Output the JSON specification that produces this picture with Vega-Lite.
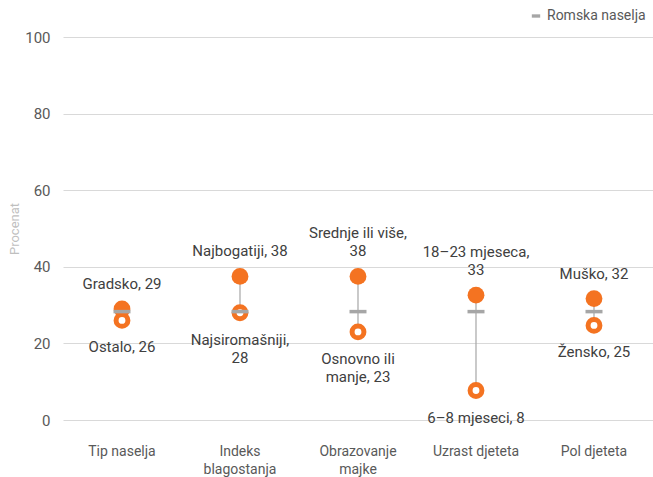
{
  "$schema": "https://vega.github.io/schema/vega-lite/v6.json",
  "width": 590,
  "height": 383,
  "autosize": "none",
  "padding": {"left": 63, "top": 37, "right": 0, "bottom": 57},
  "background": "white",
  "config": {
    "view": {"stroke": null},
    "font": "Roboto",
    "axis": {"labelFont": "Roboto", "titleFont": "Roboto"}
  },
  "data": {
    "values": [
      {"kategorija": "Tip naselja", "visoko": 29, "visokoGore": "", "visokoLbl": "Gradsko, 29", "nisko": 26, "niskoLbl": "Ostalo, 26", "roma": 28.3},
      {"kategorija": "Indeks|blagostanja", "visoko": 37.5, "visokoGore": "", "visokoLbl": "Najbogatiji, 38", "nisko": 28, "niskoLbl": "Najsiromašniji,|28", "roma": 28.3},
      {"kategorija": "Obrazovanje|majke", "visoko": 37.5, "visokoGore": "Srednje ili više,", "visokoLbl": "38", "nisko": 23, "niskoLbl": "Osnovno ili|manje, 23", "roma": 28.3},
      {"kategorija": "Uzrast djeteta", "visoko": 32.6, "visokoGore": "18–23 mjeseca,", "visokoLbl": "33", "nisko": 7.7, "niskoLbl": "6–8 mjeseci, 8", "roma": 28.3},
      {"kategorija": "Pol djeteta", "visoko": 31.7, "visokoGore": "", "visokoLbl": "Muško, 32", "nisko": 24.7, "niskoLbl": "Žensko, 25", "roma": 28.3}
    ]
  },
  "encoding": {
    "x": {
      "field": "kategorija",
      "type": "nominal",
      "sort": null,
      "scale": {"paddingInner": 0, "paddingOuter": 0},
      "axis": {
        "title": null,
        "labelAngle": 0,
        "labelExpr": "split(datum.label, '|')",
        "labelFontSize": 14,
        "labelColor": "#595959",
        "labelPadding": 24,
        "labelLineHeight": 18,
        "ticks": false,
        "domain": false,
        "grid": false,
        "labelBaseline": "top"
      }
    }
  },
  "layer": [
    {
      "mark": {"type": "rule", "color": "#a6a6a6", "strokeWidth": 1.2},
      "encoding": {
        "y": {
          "field": "nisko",
          "type": "quantitative",
          "scale": {"domain": [0, 100]},
          "axis": {
            "title": "Procenat",
            "titleColor": "#bfbfbf",
            "titleFontSize": 13,
            "titleFontWeight": "normal",
            "titlePadding": 3,
            "values": [0, 20, 40, 60, 80, 100],
            "labelFontSize": 15,
            "labelColor": "#595959",
            "labelPadding": 13,
            "ticks": false,
            "domain": false,
            "gridColor": "#d9d9d9",
            "gridWidth": 1
          }
        },
        "y2": {"field": "visoko"}
      }
    },
    {
      "mark": {"type": "point", "shape": "circle", "filled": true, "size": 283, "color": "#f47321", "opacity": 1},
      "encoding": {"y": {"field": "visoko", "type": "quantitative"}}
    },
    {
      "mark": {"type": "point", "shape": "circle", "filled": false, "size": 140, "stroke": "#f47321", "fill": "white", "fillOpacity": 1, "strokeWidth": 5, "opacity": 1},
      "encoding": {"y": {"field": "nisko", "type": "quantitative"}}
    },
    {
      "mark": {"type": "tick", "thickness": 3.5, "size": 17, "opacity": 1},
      "encoding": {
        "y": {"field": "roma", "type": "quantitative"},
        "color": {
          "datum": "Romska naselja",
          "scale": {"range": ["#a6a6a6"]},
          "legend": {
            "title": null,
            "orient": "none",
            "legendX": 466,
            "legendY": -28,
            "symbolType": "M-1,-0.4H1V0.4H-1Z",
            "symbolSize": 70,
            "symbolStrokeWidth": 0,
            "labelFontSize": 14,
            "labelColor": "#595959",
            "labelOffset": 4
          }
        }
      }
    },
    {
      "mark": {"type": "text", "baseline": "bottom", "dy": -35, "fontSize": 15, "color": "#404040"},
      "encoding": {
        "y": {"field": "visoko", "type": "quantitative"},
        "text": {"field": "visokoGore"}
      }
    },
    {
      "mark": {"type": "text", "baseline": "bottom", "dy": -17, "fontSize": 15, "color": "#404040"},
      "encoding": {
        "y": {"field": "visoko", "type": "quantitative"},
        "text": {"field": "visokoLbl"}
      }
    },
    {
      "mark": {"type": "text", "baseline": "top", "dy": 20, "fontSize": 15, "color": "#404040", "lineBreak": "|", "lineHeight": 18},
      "encoding": {
        "y": {"field": "nisko", "type": "quantitative"},
        "text": {"field": "niskoLbl"}
      }
    }
  ]
}
